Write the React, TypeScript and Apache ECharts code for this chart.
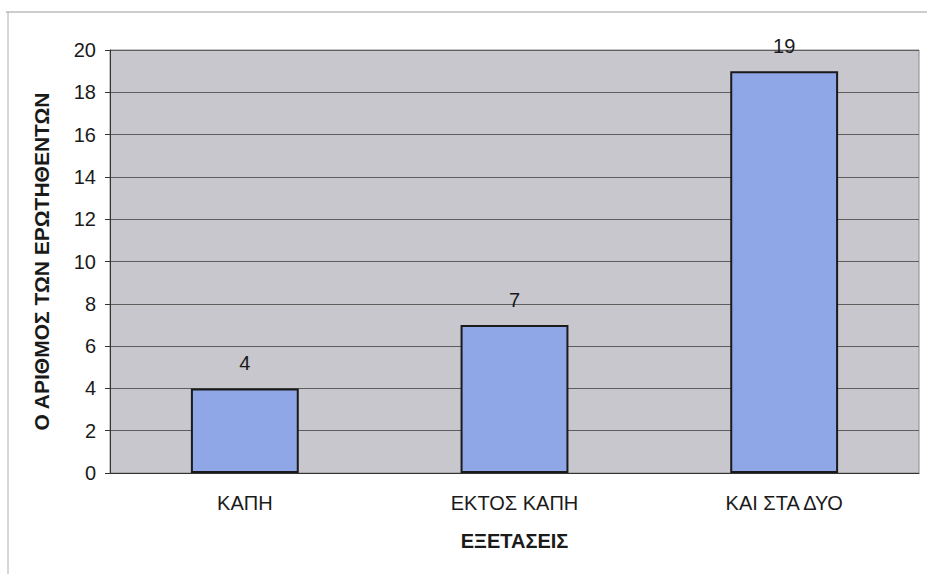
import React, { useEffect, useRef } from "react";
import * as echarts from "echarts";

const categories = ["ΚΑΠΗ", "ΕΚΤΟΣ ΚΑΠΗ", "ΚΑΙ ΣΤΑ ΔΥΟ"];
const values = [4, 7, 19];
const yAxisName = "Ο ΑΡΙΘΜΟΣ ΤΩΝ ΕΡΩΤΗΘΕΝΤΩΝ";
const xAxisName = "ΕΞΕΤΑΣΕΙΣ";

export default function App() {
  const ref = useRef<HTMLDivElement>(null);
  useEffect(() => {
    if (!ref.current) return;
    const chart = echarts.init(ref.current, null, { renderer: "svg" });
    const font = "'Liberation Sans', Arial, sans-serif";
    chart.setOption({
      animation: false,
      backgroundColor: "#ffffff",
      grid: {
        left: 110,
        right: 8,
        top: 50,
        bottom: 101,
        show: true,
        backgroundColor: "#c7c7cd",
        borderColor: "#8a8a8a",
        borderWidth: 1,
      },
      graphic: [
        {
          type: "line",
          shape: { x1: 6, y1: 12, x2: 927, y2: 12 },
          style: { stroke: "#9a9a9a", lineWidth: 1 },
        },
        {
          type: "line",
          shape: { x1: 8, y1: 12, x2: 8, y2: 574 },
          style: { stroke: "#b0b0b0", lineWidth: 1 },
        },
      ],
      xAxis: {
        type: "category",
        data: categories,
        name: xAxisName,
        nameLocation: "middle",
        nameGap: 58,
        nameTextStyle: {
          color: "#1a1a1a",
          fontSize: 20,
          fontWeight: "bold",
          fontFamily: font,
        },
        axisLine: { show: true, lineStyle: { color: "#333", width: 1 } },
        axisTick: { show: false },
        axisLabel: {
          color: "#1a1a1a",
          fontSize: 20,
          fontFamily: font,
          margin: 20,
        },
      },
      yAxis: {
        type: "value",
        min: 0,
        max: 20,
        interval: 2,
        name: yAxisName,
        nameLocation: "middle",
        nameGap: 58,
        nameRotate: 90,
        nameTextStyle: {
          color: "#1a1a1a",
          fontSize: 21,
          fontWeight: "bold",
          fontFamily: font,
        },
        axisLine: { show: true, lineStyle: { color: "#333", width: 1 } },
        axisTick: { show: true, length: 5, lineStyle: { color: "#333" } },
        axisLabel: {
          color: "#1a1a1a",
          fontSize: 20,
          fontFamily: font,
          margin: 14,
        },
        splitLine: { show: true, lineStyle: { color: "#5e5e5e", width: 1 } },
      },
      series: [
        {
          type: "bar",
          data: values,
          barWidth: "40%",
          itemStyle: {
            color: "#8fa7e7",
            borderColor: "#1a1a1a",
            borderWidth: 2,
          },
          label: {
            show: true,
            position: "top",
            distance: 15,
            color: "#1a1a1a",
            fontSize: 20,
            fontFamily: font,
          },
        },
      ],
    });
    return () => chart.dispose();
  }, []);
  return <div ref={ref} style={{ width: 927, height: 574, position: "absolute", left: 0, top: 0 }} />;
}
